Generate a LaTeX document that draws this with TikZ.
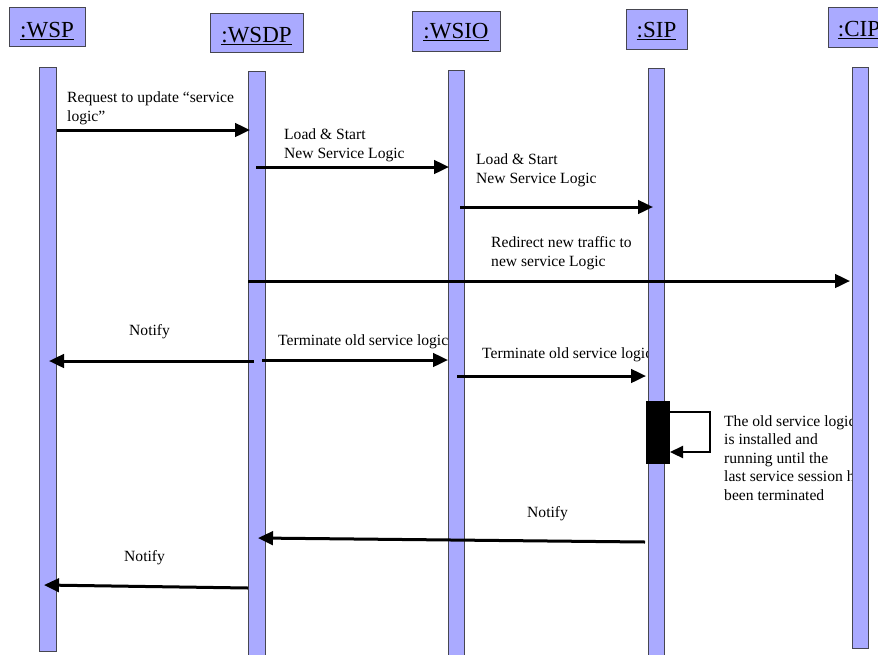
\documentclass[tikz,border=0pt]{standalone}
\usepackage{fontspec}
\setmainfont{Liberation Serif}
\usetikzlibrary{arrows.meta}
\definecolor{lifefill}{RGB}{170,170,255}
\definecolor{lifeedge}{RGB}{70,70,80}

\begin{document}
\begin{tikzpicture}[x=1pt,y=-1pt,
  % multi-line labels are placed at the baseline of their last line
  msgtext/.style={anchor=base west, inner sep=0pt, align=left,
    font=\fontsize{15.6}{18.5}\selectfont},
  headbox/.style 2 args={draw=lifeedge, line width=1pt, fill=lifefill,
    inner sep=0pt, anchor=north, text height=#1, text depth=#2,
    font=\fontsize{23}{26}\selectfont},
  lifebar/.style={draw=lifeedge, line width=1pt, fill=lifefill,
    inner sep=0pt, anchor=north west},
  msg/.style={line width=3pt, -{Triangle[length=15pt,width=13.5pt]}},
  selfmsg/.style={line width=2.3pt, -{Triangle[length=13pt,width=12pt]}},
]
\useasboundingbox (0,0) rectangle (878,654);
\clip (0,0) rectangle (878,654);

% message labels (set beneath the lifelines)
\node[msgtext] (t1) at (67,121) {Request to update “service\\logic”};
\node[msgtext] (t2) at (284,158) {Load \& Start\\New Service Logic};
\node[msgtext] (t3) at (476,183) {Load \& Start\\New Service Logic};
\node[msgtext] (t4) at (491,266) {Redirect new traffic to\\new service Logic};
\node[msgtext] (t5) at (129,335) {Notify};
\node[msgtext] (t6) at (278,345) {Terminate old service logic};
\node[msgtext] (t7) at (482,358) {Terminate old service logic};
\node[msgtext] (t8) at (724,500) {The old service logic\\is installed and\\running until the\\last service session has\\been terminated};
\node[msgtext] (t9) at (527,517) {Notify};
\node[msgtext] (t10) at (124,561) {Notify};

% lifelines
\node[lifebar, minimum width=17pt, minimum height=584pt] (wspbar) at (39,67) {};
\node[lifebar, minimum width=17pt, minimum height=600pt] (wsdpbar) at (248,71) {};
\node[lifebar, minimum width=16pt, minimum height=600pt] (wsiobar) at (448,70) {};
\node[lifebar, minimum width=16pt, minimum height=600pt] (sipbar) at (648,68) {};
\node[lifebar, minimum width=16pt, minimum height=581pt] (cipbar) at (852,67) {};

% object headers
\node[headbox={30.3pt}{8.7pt}, minimum width=76pt] (wsp) at (47,7) {\underline{:WSP}};
\node[headbox={29.3pt}{9.7pt}, minimum width=93pt] (wsdp) at (256.5,13) {\underline{:WSDP}};
\node[headbox={27.3pt}{12.7pt}, minimum width=88pt] (wsio) at (456,11) {\underline{:WSIO}};
\node[headbox={28.3pt}{11.7pt}, minimum width=61pt] (sip) at (656.5,9) {\underline{:SIP}};
\node[headbox={28.7pt}{11.3pt}, minimum width=62pt] (cip) at (859,7) {\underline{:CIP}};

% activation on :SIP
\node[fill=black, inner sep=0pt, anchor=north west, minimum width=24pt,
  minimum height=63pt] (act) at (646,401) {};

% message end points
\coordinate (m1a) at (57,130);   \coordinate (m1b) at (250,130);
\coordinate (m2a) at (256,167);  \coordinate (m2b) at (449,167);
\coordinate (m3a) at (460,207);  \coordinate (m3b) at (653,207);
\coordinate (m4a) at (248,281);  \coordinate (m4b) at (850,281);
\coordinate (m5a) at (254,361);  \coordinate (m5b) at (49,361);
\coordinate (m6a) at (262,360);  \coordinate (m6b) at (448,360);
\coordinate (m7a) at (457,376);  \coordinate (m7b) at (646,376);
\coordinate (m8a) at (670,412);  \coordinate (m8b) at (670,452);
\coordinate (m9a) at (645,542);  \coordinate (m9b) at (258,538);
\coordinate (m10a) at (248,588); \coordinate (m10b) at (44,585);

\draw[msg] (m1a) -- (m1b);
\draw[msg] (m2a) -- (m2b);
\draw[msg] (m3a) -- (m3b);
\draw[msg] (m4a) -- (m4b);
\draw[msg] (m5a) -- (m5b);
\draw[msg] (m6a) -- (m6b);
\draw[msg] (m7a) -- (m7b);
\draw[selfmsg] (m8a) -- ++(40,0) |- (m8b);
\draw[msg] (m9a) -- (m9b);
\draw[msg] (m10a) -- (m10b);
\end{tikzpicture}
\end{document}
